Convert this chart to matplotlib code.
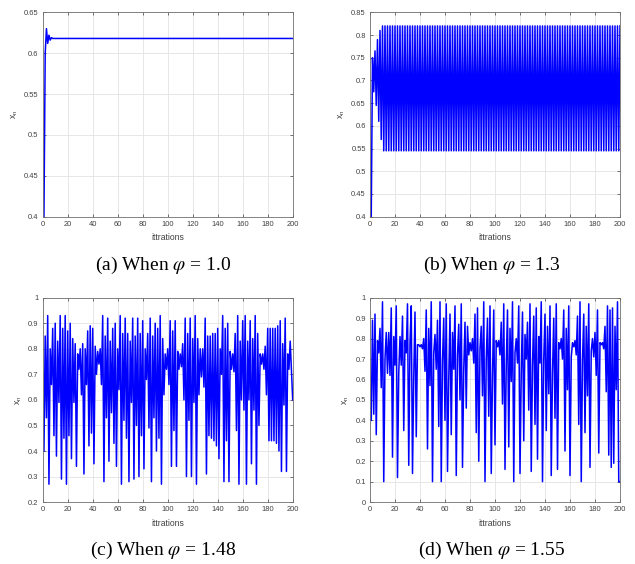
import numpy as np
import matplotlib
matplotlib.use("Agg")
import matplotlib.pyplot as plt

plt.rcParams['mathtext.fontset'] = 'stix'
plt.rcParams['font.family'] = ['Liberation Sans', 'DejaVu Sans']

# ---- data ----
xa_transient = [0.40, 0.60, 0.630, 0.612, 0.622, 0.616, 0.619]
xa_steady = 0.618
series_a = xa_transient + [xa_steady] * (200 - len(xa_transient))

xb_transient = [0.40, 0.75, 0.675, 0.765, 0.645, 0.79, 0.61, 0.81, 0.57, 0.82, 0.545]
xb_high, xb_low = 0.82, 0.545
series_b = xb_transient + [xb_high, xb_low] * ((200 - len(xb_transient)) // 2) + [xb_high]

series_c = [
    0.40, 0.85, 0.53, 0.93, 0.27, 0.80, 0.66, 0.88, 0.46, 0.90, 0.38, 0.83, 0.59, 0.93, 0.29, 0.88, 0.45, 0.93, 0.27, 0.87,
    0.46, 0.90, 0.37, 0.84, 0.59, 0.82, 0.34, 0.78, 0.72, 0.80, 0.62, 0.82, 0.31, 0.80, 0.66, 0.87, 0.42, 0.89, 0.47, 0.88,
    0.35, 0.81, 0.70, 0.79, 0.74, 0.80, 0.66, 0.93, 0.28, 0.85, 0.53, 0.92, 0.36, 0.83, 0.55, 0.88, 0.43, 0.90, 0.34, 0.80,
    0.64, 0.93, 0.27, 0.86, 0.52, 0.92, 0.45, 0.86, 0.28, 0.83, 0.59, 0.92, 0.29, 0.85, 0.50, 0.92, 0.30, 0.86, 0.46, 0.91,
    0.33, 0.80, 0.68, 0.86, 0.49, 0.92, 0.28, 0.85, 0.53, 0.90, 0.40, 0.88, 0.45, 0.93, 0.27, 0.84, 0.62, 0.78, 0.72, 0.80,
    0.66, 0.91, 0.34, 0.87, 0.48, 0.91, 0.34, 0.79, 0.72, 0.78, 0.73, 0.82, 0.60, 0.92, 0.30, 0.86, 0.52, 0.92, 0.30, 0.84,
    0.59, 0.93, 0.27, 0.84, 0.62, 0.80, 0.69, 0.80, 0.65, 0.92, 0.31, 0.85, 0.46, 0.85, 0.45, 0.86, 0.44, 0.86, 0.42, 0.88,
    0.37, 0.80, 0.70, 0.93, 0.28, 0.88, 0.44, 0.90, 0.28, 0.79, 0.72, 0.78, 0.71, 0.86, 0.48, 0.93, 0.27, 0.83, 0.60, 0.91,
    0.56, 0.93, 0.27, 0.83, 0.60, 0.91, 0.35, 0.84, 0.56, 0.93, 0.27, 0.86, 0.50, 0.78, 0.74, 0.78, 0.72, 0.81, 0.62, 0.88,
    0.44, 0.88, 0.44, 0.88, 0.44, 0.88, 0.43, 0.89, 0.40, 0.91, 0.32, 0.82, 0.58, 0.92, 0.32, 0.78, 0.72, 0.83, 0.71, 0.60,
]

series_d = [
    0.40, 0.89, 0.43, 0.92, 0.33, 0.79, 0.73, 0.85, 0.56, 0.98, 0.10, 0.70, 0.83, 0.63, 0.83, 0.62, 0.95, 0.22, 0.81, 0.67,
    0.96, 0.12, 0.63, 0.81, 0.67, 0.91, 0.35, 0.79, 0.73, 0.97, 0.18, 0.78, 0.96, 0.14, 0.61, 0.93, 0.32, 0.77, 0.77, 0.76,
    0.77, 0.75, 0.80, 0.64, 0.94, 0.26, 0.85, 0.57, 0.98, 0.10, 0.73, 0.82, 0.65, 0.89, 0.37, 0.98, 0.10, 0.69, 0.90, 0.40,
    0.97, 0.15, 0.60, 0.92, 0.33, 0.83, 0.65, 0.96, 0.13, 0.72, 0.87, 0.50, 0.97, 0.17, 0.65, 0.88, 0.46, 0.86, 0.72, 0.78,
    0.74, 0.80, 0.68, 0.92, 0.34, 0.95, 0.20, 0.75, 0.86, 0.52, 0.98, 0.10, 0.70, 0.90, 0.42, 0.96, 0.14, 0.62, 0.94, 0.28,
    0.79, 0.76, 0.79, 0.72, 0.88, 0.48, 0.97, 0.16, 0.67, 0.94, 0.27, 0.85, 0.59, 0.98, 0.10, 0.73, 0.80, 0.68, 0.96, 0.14,
    0.63, 0.93, 0.30, 0.82, 0.70, 0.88, 0.45, 0.97, 0.15, 0.67, 0.91, 0.38, 0.95, 0.21, 0.81, 0.68, 0.98, 0.10, 0.70, 0.92,
    0.35, 0.86, 0.53, 0.96, 0.13, 0.63, 0.90, 0.41, 0.97, 0.16, 0.78, 0.75, 0.80, 0.70, 0.94, 0.25, 0.85, 0.55, 0.96, 0.13,
    0.71, 0.78, 0.76, 0.79, 0.72, 0.91, 0.38, 0.98, 0.10, 0.69, 0.92, 0.34, 0.86, 0.52, 0.97, 0.17, 0.74, 0.80, 0.71, 0.83,
    0.62, 0.94, 0.24, 0.78, 0.77, 0.78, 0.75, 0.86, 0.54, 0.96, 0.23, 0.94, 0.17, 0.95, 0.19, 0.86, 0.55, 0.98, 0.10, 0.10,
]

captions = [r"(a) When $\varphi$ = 1.0", r"(b) When $\varphi$ = 1.3",
            r"(c) When $\varphi$ = 1.48", r"(d) When $\varphi$ = 1.55"]
ylims = [(0.4, 0.65), (0.4, 0.85), (0.2, 1.0), (0.0, 1.0)]
yticks = [np.round(np.arange(0.4, 0.651, 0.05), 2),
          np.round(np.arange(0.4, 0.851, 0.05), 2),
          np.round(np.arange(0.2, 1.001, 0.1), 1),
          np.round(np.arange(0.0, 1.001, 0.1), 1)]
xticks = list(range(0, 201, 20))
xlabel = "ittrations"
series = [series_a, series_b, series_c, series_d]

# ---- layout ----
W, H = 635, 564
fig = plt.figure(figsize=(W / 100, H / 100), dpi=100)

boxes = [(42.7, 12.3), (370.0, 12.3), (42.7, 297.7), (370.0, 297.7)]
aw, ah = 250.0, 204.4
cap_pos = [(163, 265.5), (492, 265.5), (163, 550.5), (492, 550.5)]

tick_col = '#404040'
for i in range(4):
    l, t = boxes[i]
    ax = fig.add_axes([l / W, 1 - (t + ah) / H, aw / W, ah / H])
    y = np.array(series[i])
    x = np.arange(1, len(y) + 1)
    ax.plot(x, y, color=(0, 0, 1), lw=1.1)
    ax.set_xlim(0, 200)
    ax.set_ylim(*ylims[i])
    ax.set_xticks(xticks)
    ax.set_yticks(yticks[i])
    ax.set_yticklabels([f"{v:g}" for v in yticks[i]])
    ax.grid(True, color='#e3e3e3', lw=0.6)
    ax.set_axisbelow(True)
    ax.tick_params(direction='in', top=True, right=True, labelsize=5.4,
                   colors=tick_col, length=2.5, width=0.5, pad=3)
    for s in ax.spines.values():
        s.set_color('#707070')
        s.set_linewidth(0.6)
    ax.set_xlabel(xlabel, fontsize=6.2, color=tick_col, labelpad=4)
    ax.set_ylabel(r"x$_\mathregular{n}$", fontsize=6.2, color=tick_col, labelpad=3)
    cx, cy = cap_pos[i]
    fig.text(cx / W, 1 - cy / H, captions[i], ha='center', va='center',
             fontsize=14, family='Liberation Serif')

fig.savefig("out.png", dpi=100)
